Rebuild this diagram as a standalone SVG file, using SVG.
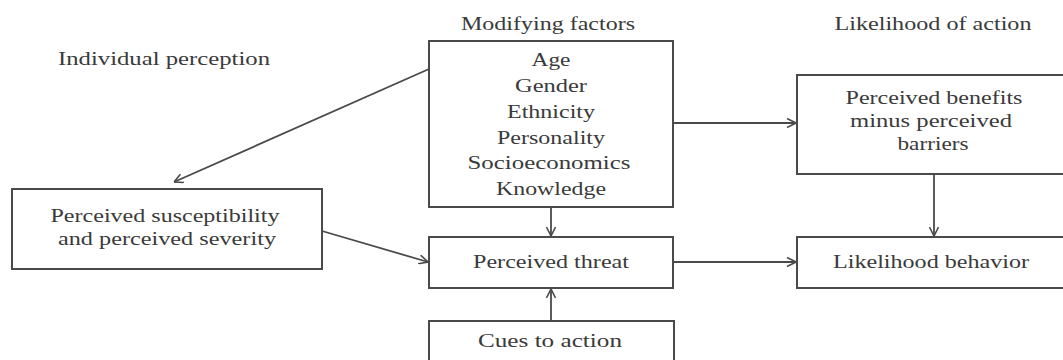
<svg xmlns="http://www.w3.org/2000/svg" width="1063" height="360" viewBox="0 0 1063 360">
<style>
  .box { fill: #ffffff; stroke: #4a4a4a; stroke-width: 2; }
  .lbl { font-family: "Liberation Serif", "Times New Roman", serif; font-size: 18px; fill: #3a3a3a; text-anchor: middle; }
  .con { fill: none; stroke: #4a4a4a; stroke-width: 1.8; marker-end: url(#arr); }
</style>
<defs>
  <marker id="arr" viewBox="0 0 10 10" markerUnits="userSpaceOnUse" markerWidth="10" markerHeight="10" refX="10" refY="5" orient="auto">
    <path d="M1,0.5 L10,5 L1,9.5" fill="none" stroke="#4a4a4a" stroke-width="1.6"/>
  </marker>
</defs>
<rect width="1063" height="360" fill="#ffffff"/>

<g id="headers">
  <text class="lbl" x="164" y="65" textLength="212" lengthAdjust="spacingAndGlyphs">Individual perception</text>
  <text class="lbl" x="548" y="30" textLength="174" lengthAdjust="spacingAndGlyphs">Modifying factors</text>
  <text class="lbl" x="933" y="30" textLength="197" lengthAdjust="spacingAndGlyphs">Likelihood of action</text>
</g>

<g id="modifying">
  <rect class="box" x="429" y="41" width="244" height="166"/>
  <text class="lbl" x="551" y="66" textLength="39" lengthAdjust="spacingAndGlyphs">Age</text>
  <text class="lbl" x="551" y="92" textLength="72" lengthAdjust="spacingAndGlyphs">Gender</text>
  <text class="lbl" x="551" y="118" textLength="88" lengthAdjust="spacingAndGlyphs">Ethnicity</text>
  <text class="lbl" x="551" y="144" textLength="108" lengthAdjust="spacingAndGlyphs">Personality</text>
  <text class="lbl" x="549" y="169" textLength="163" lengthAdjust="spacingAndGlyphs">Socioeconomics</text>
  <text class="lbl" x="551" y="195" textLength="110" lengthAdjust="spacingAndGlyphs">Knowledge</text>
</g>

<g id="susceptibility">
  <rect class="box" x="12" y="189" width="310" height="80"/>
  <text class="lbl" x="165" y="222" textLength="229" lengthAdjust="spacingAndGlyphs">Perceived susceptibility</text>
  <text class="lbl" x="167" y="245" textLength="218" lengthAdjust="spacingAndGlyphs">and perceived severity</text>
</g>

<g id="benefits">
  <rect class="box" x="797" y="75" width="280" height="99"/>
  <text class="lbl" x="934" y="104" textLength="177" lengthAdjust="spacingAndGlyphs">Perceived benefits</text>
  <text class="lbl" x="931" y="127" textLength="162" lengthAdjust="spacingAndGlyphs">minus perceived</text>
  <text class="lbl" x="933" y="150" textLength="71" lengthAdjust="spacingAndGlyphs">barriers</text>
</g>

<g id="threat">
  <rect class="box" x="429" y="237" width="244" height="51"/>
  <text class="lbl" x="551" y="268" textLength="156" lengthAdjust="spacingAndGlyphs">Perceived threat</text>
</g>

<g id="behavior">
  <rect class="box" x="797" y="237" width="280" height="51"/>
  <text class="lbl" x="931" y="268" textLength="196" lengthAdjust="spacingAndGlyphs">Likelihood behavior</text>
</g>

<g id="cues">
  <rect class="box" x="429" y="321" width="245" height="60"/>
  <text class="lbl" x="550" y="347" textLength="144" lengthAdjust="spacingAndGlyphs">Cues to action</text>
</g>

<g id="connectors">
  <line class="con" x1="429" y1="69" x2="174" y2="182"/>
  <line class="con" x1="673" y1="123" x2="796" y2="123"/>
  <line class="con" x1="551" y1="207" x2="551" y2="236"/>
  <line class="con" x1="322" y1="231" x2="428" y2="262"/>
  <line class="con" x1="673" y1="262" x2="796" y2="262"/>
  <line class="con" x1="934" y1="174" x2="934" y2="236"/>
  <line class="con" x1="551" y1="321" x2="551" y2="289"/>
</g>
</svg>
